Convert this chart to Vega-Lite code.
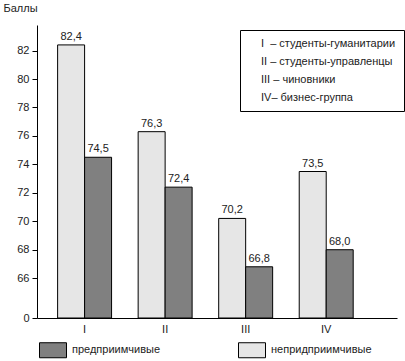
{
  "$schema": "https://vega.github.io/schema/vega-lite/v6.json",
  "width": 360,
  "height": 293,
  "autosize": {"type": "none"},
  "padding": {"left": 37, "top": 25, "right": 8, "bottom": 43},
  "background": "white",
  "config": {
    "view": {"stroke": null},
    "font": "Liberation Sans",
    "text": {"font": "Liberation Sans"}
  },
  "data": {
    "values": [
      {"group": "I", "type": "непридприимчивые", "value": 82.4, "label": "82,4", "desc": "I\u00a0\u00a0– студенты-гуманитарии"},
      {"group": "I", "type": "предприимчивые", "value": 74.5, "label": "74,5", "desc": "I\u00a0\u00a0– студенты-гуманитарии"},
      {"group": "II", "type": "непридприимчивые", "value": 76.3, "label": "76,3", "desc": "II\u00a0– студенты-управленцы"},
      {"group": "II", "type": "предприимчивые", "value": 72.4, "label": "72,4", "desc": "II\u00a0– студенты-управленцы"},
      {"group": "III", "type": "непридприимчивые", "value": 70.2, "label": "70,2", "desc": "III – чиновники"},
      {"group": "III", "type": "предприимчивые", "value": 66.8, "label": "66,8", "desc": "III – чиновники"},
      {"group": "IV", "type": "непридприимчивые", "value": 73.5, "label": "73,5", "desc": "IV– бизнес-группа"},
      {"group": "IV", "type": "предприимчивые", "value": 68.0, "label": "68,0", "desc": "IV– бизнес-группа"}
    ]
  },
  "encoding": {
    "x": {
      "field": "group",
      "type": "nominal",
      "sort": ["I", "II", "III", "IV"],
      "scale": {"paddingInner": 0.33, "paddingOuter": 0.4, "align": 0.32},
      "axis": {
        "title": null,
        "ticks": false,
        "tickSize": 0,
        "labelPadding": 5,
        "labelAngle": 0,
        "domainColor": "black",
        "labelFontSize": 11,
        "labelColor": "#222",
        "labelFont": "Liberation Sans"
      }
    },
    "xOffset": {
      "field": "type",
      "type": "nominal",
      "scale": {"domain": ["непридприимчивые", "предприимчивые"], "paddingInner": 0, "paddingOuter": 0}
    },
    "y": {
      "field": "value",
      "type": "quantitative",
      "scale": {"domain": [63.2, 83.8], "zero": false, "nice": false},
      "axis": {
        "values": [63.2, 66, 68, 70, 72, 74, 76, 78, 80, 82],
        "labelExpr": "datum.value < 65 ? '0' : datum.label",
        "grid": false,
        "tickSize": 5,
        "domainColor": "black",
        "tickColor": "black",
        "labelFontSize": 11,
        "labelColor": "#222",
        "labelFont": "Liberation Sans",
        "labelPadding": 3,
        "title": "Баллы",
        "titleAngle": 0,
        "titleAlign": "left",
        "titleX": -34,
        "titleY": -17,
        "titleBaseline": "middle",
        "titleFontWeight": "normal",
        "titleFontSize": 11,
        "titleColor": "#222",
        "titleFont": "Liberation Sans"
      }
    }
  },
  "layer": [
    {
      "mark": {"type": "bar", "stroke": "black", "strokeWidth": 1, "opacity": 1},
      "encoding": {
        "y2": {"datum": 63.2},
        "color": {
          "field": "type",
          "type": "nominal",
          "scale": {"domain": ["предприимчивые", "непридприимчивые"], "range": ["#808080", "#e6e6e6"]},
          "legend": {
            "orient": "none",
            "legendX": 2,
            "legendY": 311,
            "direction": "horizontal",
            "columns": 2,
            "columnPadding": 75,
            "title": null,
            "symbolType": "M-1,-0.5556L1,-0.5556L1,0.5556L-1,0.5556Z",
            "symbolSize": 729,
            "symbolStrokeColor": "black",
            "symbolStrokeWidth": 1,
            "symbolOpacity": 1,
            "labelFontSize": 11,
            "labelColor": "#222",
            "labelFont": "Liberation Sans",
            "labelOffset": 5,
            "padding": 0
          }
        }
      }
    },
    {
      "mark": {"type": "text", "baseline": "alphabetic", "dy": -5, "fontSize": 11, "color": "#222", "font": "Liberation Sans"},
      "encoding": {"text": {"field": "label"}}
    },
    {
      "mark": {"type": "point", "opacity": 0},
      "encoding": {
        "shape": {
          "field": "desc",
          "type": "nominal",
          "scale": {"domain": ["I\u00a0\u00a0– студенты-гуманитарии", "II\u00a0– студенты-управленцы", "III – чиновники", "IV– бизнес-группа"]},
          "legend": {
            "orient": "none",
            "legendX": 203,
            "legendY": 5,
            "title": null,
            "strokeColor": "black",
            "padding": 8,
            "symbolSize": 0,
            "symbolOpacity": 0,
            "symbolStrokeWidth": 0,
            "labelOffset": 2,
            "rowPadding": 6,
            "labelFontSize": 11,
            "labelColor": "#222",
            "labelFont": "Liberation Sans"
          }
        }
      }
    }
  ]
}
